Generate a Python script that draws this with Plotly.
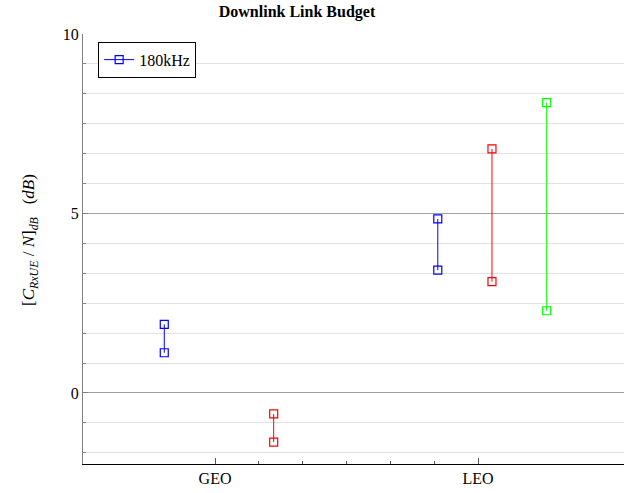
import plotly.graph_objects as go

# Data
categories = ["GEO", "LEO"]
category_pos = [0, 1]

blue_x = [-0.193, 0.847]
blue_low = [1.12, 3.42]
blue_high = [1.91, 4.85]

red_x = [0.223, 1.053]
red_low = [-1.37, 3.10]
red_high = [-0.585, 6.80]

green_x = [1.261]
green_low = [2.29]
green_high = [8.09]

series = [
    ("180kHz", blue_x, blue_low, blue_high, "#0000ff", True),
    ("red", red_x, red_low, red_high, "#ff0000", False),
    ("green", green_x, green_low, green_high, "#00ff00", False),
]

fig = go.Figure()
for name, xs, lo, hi, col, show in series:
    X, Y = [], []
    for x, a, b in zip(xs, lo, hi):
        X += [x, x, None]
        Y += [b, a, None]
    fig.add_trace(go.Scatter(
        x=X, y=Y, mode="lines+markers", name=name, showlegend=show,
        line=dict(color=col, width=1),
        marker=dict(symbol="square-open", size=8, color=col, line=dict(width=1.2, color=col)),
        connectgaps=False,
    ))

font = "Liberation Serif, Times New Roman, serif"
minor_x = [i / 6 for i in range(1, 6)]

fig.update_layout(
    width=624, height=493,
    margin=dict(l=83, r=0, t=34, b=29),
    paper_bgcolor="white", plot_bgcolor="white",
    font=dict(family=font, size=16, color="black"),
    title=dict(text="<b>Downlink Link Budget</b>", x=297 / 624, xanchor="center",
               y=1 - 11 / 493, yanchor="middle", font=dict(size=16, family=font)),
    xaxis=dict(
        range=[-0.502, 1.555], tickmode="array", tickvals=category_pos, ticktext=categories,
        showgrid=False, zeroline=False, showline=True, linecolor="black", linewidth=1.3,
        ticks="inside", ticklen=6, tickcolor="#555", tickwidth=1,
        minor=dict(tickmode="array", tickvals=minor_x, ticks="inside", ticklen=3,
                   tickcolor="#555", showgrid=False),
        tickfont=dict(size=16, family=font),
    ),
    yaxis=dict(
        range=[-1.98, 10], tickmode="array", tickvals=[0, 5, 10],
        showgrid=True, gridcolor="#a0a0a0", gridwidth=1, zeroline=False,
        showline=True, linecolor="#808080", linewidth=1,
        ticks="inside", ticklen=5, tickcolor="#808080",
        minor=dict(dtick=5 / 6, tick0=0, showgrid=True, gridcolor="#e2e2e2",
                   ticks="inside", ticklen=3, tickcolor="#808080"),
        tickfont=dict(size=16, family=font),
    ),
    legend=dict(x=0.028, y=0.982, xanchor="left", yanchor="top",
                bordercolor="black", borderwidth=1, bgcolor="white",
                font=dict(size=16, family=font), itemwidth=30),
)

fig.add_annotation(
    text="[<i>C</i><sub><i>RxUE</i></sub> / <i>N</i>]<sub><i>dB</i></sub>   (<i>dB</i>)",
    xref="paper", yref="paper", x=-(83 - 30) / 541, y=(464 - 240) / 430,
    textangle=-90, showarrow=False, font=dict(size=17, family=font),
    xanchor="center", yanchor="middle",
)

fig.write_html("out.html", config={"displayModeBar": False},
               post_script="document.body.style.margin='0';document.body.style.overflow='hidden';")
